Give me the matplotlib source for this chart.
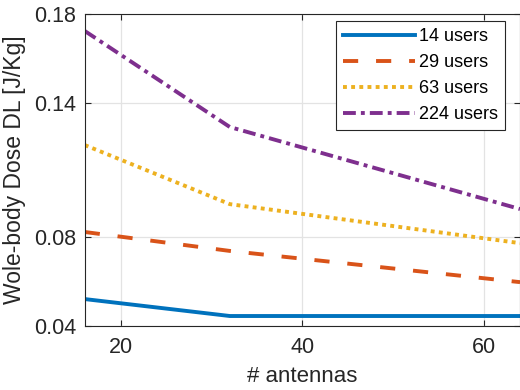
import matplotlib
matplotlib.use("Agg")
import matplotlib.pyplot as plt

plt.rcParams['font.family'] = ['Liberation Sans', 'DejaVu Sans']

antennas = [16, 32, 64]
dose_14 = [0.0521, 0.0445, 0.0445]
dose_29 = [0.0822, 0.0737, 0.0597]
dose_63 = [0.1212, 0.0947, 0.0772]
dose_224 = [0.1724, 0.1293, 0.0925]
labels = ['14 users', '29 users', '63 users', '224 users']

fig = plt.figure(figsize=(5.2, 3.9), dpi=100)
ax = fig.add_axes([0.163, 0.164, 0.837, 0.8])

lw = 2.8
ax.plot(antennas, dose_14, color='#0072BD', lw=lw, ls='-', label=labels[0])
ax.plot(antennas, dose_29, color='#D95319', lw=lw, ls=(0, (3.9, 4.6)), label=labels[1])
ax.plot(antennas, dose_63, color='#EDB120', lw=lw, ls=(0, (1, 1.1)), label=labels[2])
ax.plot(antennas, dose_224, color='#7E2F8E', lw=lw, ls=(0, (3.3, 1.3, 1, 1.3)), label=labels[3])

ax.set_xlim(16, 64)
ax.set_ylim(0.04, 0.18)
ax.set_xticks([20, 40, 60])
ax.set_yticks([0.04, 0.08, 0.14, 0.18])
ax.set_yticklabels(['0.04', '0.08', '0.14', '0.18'])
ax.grid(True, color='#e3e3e3', lw=0.9)
ax.set_axisbelow(True)
ax.tick_params(direction='in', length=4, labelsize=15.5, colors='#262626', top=True, right=True)
ax.tick_params(axis='x', pad=8)
ax.tick_params(axis='y', pad=6)
for s in ax.spines.values():
    s.set_color('#262626')
    s.set_linewidth(0.8)

ax.set_xlabel('# antennas', fontsize=16, color='#262626', labelpad=6)
ax.set_ylabel('Wole-body Dose DL [J/Kg]', fontsize=16.5, color='#262626', labelpad=6)

leg = ax.legend(loc='upper right', bbox_to_anchor=(0.9655, 0.978), borderaxespad=0, fontsize=13,
                handlelength=4, handletextpad=0.2, borderpad=0.4, labelspacing=0.5,
                fancybox=False, framealpha=1, edgecolor='#262626')
leg.get_frame().set_linewidth(0.8)

fig.savefig('out.png', dpi=100)
